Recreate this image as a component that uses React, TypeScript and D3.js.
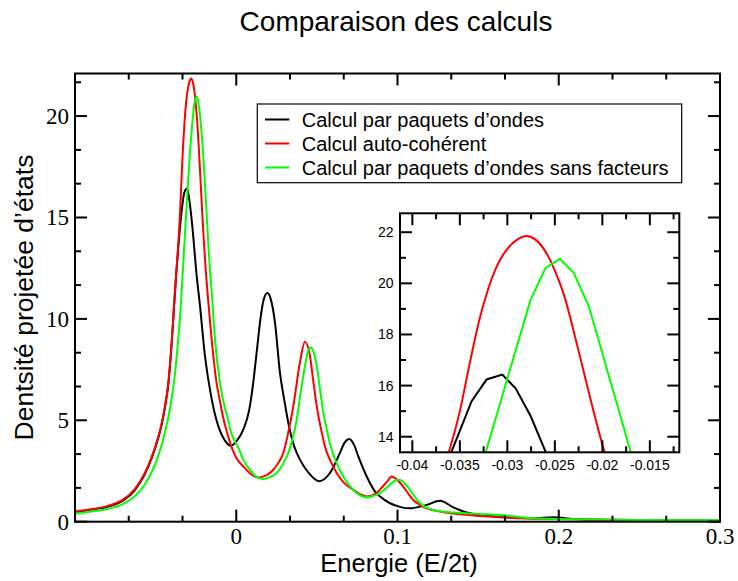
import React from 'react';
import * as d3 from 'd3';

type Pt = [number, number];

// [Energie, densité]
const blackSeries: Pt[] = [
  [-0.1, 0.48], [-0.09, 0.59], [-0.08, 0.74], [-0.07, 1.05], [-0.063, 1.55], [-0.057, 2.3],
  [-0.0524, 3.15], [-0.0483, 4.15], [-0.0462, 4.8], [-0.0442, 5.65], [-0.0421, 6.8], [-0.04, 8.85],
  [-0.0375, 11.9], [-0.03376, 15.39], [-0.03218, 16.24], [-0.03053, 16.43], [-0.02913, 15.89],
  [-0.02755, 14.81], [-0.0245, 12.1], [-0.0225, 10.65], [-0.0194, 8.17], [-0.0152, 6.03],
  [-0.0111, 4.7], [-0.007, 4.0], [-0.0033, 3.75], [0.0, 3.95], [0.0044, 4.55], [0.008, 5.5],
  [0.0106, 6.9], [0.013, 8.6], [0.015, 10.0], [0.017, 10.95], [0.0193, 11.28], [0.0215, 10.95],
  [0.024, 9.83], [0.0271, 7.35], [0.03, 5.9], [0.0323, 4.87], [0.036, 3.7], [0.0395, 3.06],
  [0.045, 2.4], [0.0515, 2.0], [0.0581, 2.4], [0.0643, 3.39], [0.0672, 3.9], [0.0701, 4.08],
  [0.073, 3.8], [0.0757, 3.22], [0.0809, 2.23], [0.086, 1.5], [0.0892, 1.24], [0.0954, 0.91],
  [0.102, 0.72], [0.1078, 0.66], [0.1181, 0.83], [0.1264, 1.03], [0.1346, 0.71], [0.1429, 0.45],
  [0.1512, 0.33], [0.1677, 0.22], [0.1842, 0.17], [0.1966, 0.22], [0.209, 0.13], [0.2297, 0.08],
  [0.3, 0.05],
];

const redSeries: Pt[] = [
  [-0.1, 0.5], [-0.09, 0.61], [-0.08, 0.77], [-0.07, 1.1], [-0.063, 1.6], [-0.057, 2.35],
  [-0.0524, 3.2], [-0.0483, 4.2], [-0.0462, 4.87], [-0.0442, 5.7], [-0.0421, 6.85], [-0.04, 8.9],
  [-0.038, 11.4], [-0.037, 12.5], [-0.036, 13.6], [-0.035, 15.0], [-0.034, 16.8], [-0.033, 18.5],
  [-0.032, 19.8], [-0.031, 20.75], [-0.03, 21.35], [-0.029, 21.7], [-0.028, 21.85], [-0.027, 21.7],
  [-0.026, 21.25], [-0.025, 20.5], [-0.024, 19.5], [-0.023, 18.1], [-0.022, 16.6], [-0.021, 15.1],
  [-0.02, 13.7], [-0.019, 12.5], [-0.0175, 11.0], [-0.0155, 9.2], [-0.0125, 7.0], [-0.01, 5.9],
  [-0.008, 5.1], [-0.005, 4.2], [-0.003, 3.7], [0.0, 3.15], [0.0044, 2.72], [0.009, 2.35],
  [0.0137, 2.18], [0.0185, 2.28], [0.023, 2.56], [0.0265, 2.95], [0.0292, 3.39], [0.032, 4.3],
  [0.0354, 5.7], [0.0395, 7.85], [0.0426, 8.87], [0.0457, 8.17], [0.048, 6.8], [0.0499, 5.7],
  [0.0525, 4.6], [0.055, 3.71], [0.059, 2.9], [0.0623, 2.4], [0.067, 1.9], [0.0726, 1.57],
  [0.077, 1.35], [0.0809, 1.24], [0.0871, 1.41], [0.091, 1.75], [0.0933, 1.95], [0.0964, 2.23],
  [0.1, 2.05], [0.1036, 1.73], [0.107, 1.35], [0.1098, 1.07], [0.114, 0.82], [0.1181, 0.66],
  [0.1264, 0.5], [0.1346, 0.4], [0.1512, 0.28], [0.1677, 0.2], [0.209, 0.12], [0.25, 0.08],
  [0.3, 0.05],
];

const greenSeries: Pt[] = [
  [-0.1, 0.4], [-0.09, 0.5], [-0.08, 0.63], [-0.07, 0.88], [-0.063, 1.25], [-0.057, 1.8],
  [-0.0524, 2.45], [-0.049, 3.1], [-0.0462, 3.8], [-0.044, 4.5], [-0.042, 5.2], [-0.04, 6.1],
  [-0.038, 7.3], [-0.036, 9.0], [-0.0345, 10.5], [-0.0335, 11.85], [-0.02755, 19.36],
  [-0.02598, 20.6], [-0.02447, 20.96], [-0.023, 20.4], [-0.02142, 19.1], [-0.016, 12.1],
  [-0.0152, 11.3], [-0.0132, 9.0], [-0.0101, 6.85], [-0.007, 5.6], [-0.0049, 5.0], [-0.0039, 4.6],
  [0.0013, 3.65], [0.0044, 3.06], [0.009, 2.5], [0.012, 2.25], [0.0168, 2.11], [0.021, 2.2],
  [0.0251, 2.4], [0.029, 2.85], [0.0323, 3.39], [0.035, 4.1], [0.0375, 5.04], [0.04, 6.4],
  [0.0426, 7.68], [0.0445, 8.4], [0.0462, 8.59], [0.048, 8.35], [0.0499, 7.68], [0.052, 6.5],
  [0.054, 5.37], [0.0565, 4.4], [0.0592, 3.55], [0.063, 2.75], [0.0664, 2.23], [0.07, 1.8],
  [0.0747, 1.41], [0.0809, 1.21], [0.086, 1.3], [0.0892, 1.41], [0.095, 1.8], [0.098, 2.0],
  [0.1011, 2.07], [0.1045, 1.9], [0.1078, 1.57], [0.111, 1.2], [0.114, 0.91], [0.1222, 0.58],
  [0.1346, 0.45], [0.1512, 0.38], [0.1636, 0.33], [0.1842, 0.17], [0.209, 0.12], [0.25, 0.09],
  [0.3, 0.07],
];

const seriesNames = [
  'Calcul par paquets d\u2019ondes',
  'Calcul auto-coh\u00e9rent',
  'Calcul par paquets d\u2019ondes sans facteurs',
];
const seriesColors = ['#000000', '#ff0000', '#00ff00'];

const xMajorTicks = [-0.1, 0, 0.1, 0.2, 0.3];
const xTickLabels = ['', '0', '0.1', '0.2', '0.3'];
const yMajorTicks = [0, 5, 10, 15, 20];
const yTickLabels = ['0', '5', '10', '15', '20'];

const insetXTicks = [-0.04, -0.035, -0.03, -0.025, -0.02, -0.015];
const insetXLabels = ['-0.04', '-0.035', '-0.03', '-0.025', '-0.02', '-0.015'];
const insetYTicks = [14, 16, 18, 20, 22];
const insetYLabels = ['14', '16', '18', '20', '22'];

const SANS = '"Liberation Sans", Arial, Helvetica, sans-serif';
const SERIF = '"Liberation Serif", "Times New Roman", serif';

export default function App() {
  const W = 738, H = 581;
  const L = 75, R = 720, T = 73.5, B = 521.7;
  const x = d3.scaleLinear().domain([-0.1, 0.3]).range([L, R]);
  const y = d3.scaleLinear().domain([0, 22.1]).range([B, T]);

  const iL = 400, iR = 679.3, iT = 213.3, iB = 452.3;
  const ix = d3.scaleLinear().domain([-0.0413, -0.0119]).range([iL, iR]);
  const iy = d3.scaleLinear().domain([13.39, 22.74]).range([iB, iT]);

  const all = [blackSeries, redSeries, greenSeries];

  const mainLine = d3.line<Pt>().x(d => x(d[0])).y(d => y(d[1])).curve(d3.curveMonotoneX);
  const insetLinear = d3.line<Pt>().x(d => ix(d[0])).y(d => iy(d[1]));
  const insetSmooth = d3.line<Pt>().x(d => ix(d[0])).y(d => iy(d[1])).curve(d3.curveMonotoneX);

  const xMinor = d3.range(0, 13).map(i => -0.1 + i * (0.1 / 3)).filter((_, i) => i % 3 !== 0);
  const yMinor = d3.range(0, 14).map(i => i * (5 / 3)).filter((v, i) => i % 3 !== 0 && v <= 22.1);
  const ixMinor = d3.range(0, 12).map(i => -0.04 + i * 0.0025).filter((_, i) => i % 2 === 1);
  const iyMinor = [15, 17, 19, 21];

  const MAJ = 12, MIN = 6;

  const tick = (key: string, x1: number, y1: number, x2: number, y2: number, w = 2) => (
    <line key={key} x1={x1} y1={y1} x2={x2} y2={y2} stroke="#000" strokeWidth={w} />
  );

  return (
    <svg width={W} height={H} style={{ position: 'absolute', left: 0, top: 0, background: '#fff' }}>
      <rect x={0} y={0} width={W} height={H} fill="#fff" />
      <defs>
        <clipPath id="mainClip"><rect x={L} y={T} width={R - L} height={B - T} /></clipPath>
        <clipPath id="insetClip"><rect x={iL} y={iT} width={iR - iL} height={iB - iT} /></clipPath>
      </defs>

      {/* title */}
      <text x={396} y={31} textAnchor="middle" fontFamily={SANS} fontSize={28} fill="#000">
        Comparaison des calculs
      </text>

      {/* curves */}
      <g clipPath="url(#mainClip)">
        {all.map((s, i) => (
          <path key={i} d={mainLine(s) || ''} fill="none" stroke={seriesColors[i]} strokeWidth={2} />
        ))}
      </g>

      {/* main frame and ticks */}
      <rect x={L} y={T} width={R - L} height={B - T} fill="none" stroke="#000" strokeWidth={2} />
      {xMajorTicks.map((v, i) => (
        <g key={'xm' + i}>
          {tick('b', x(v), B, x(v), B - MAJ)}
          {tick('t', x(v), T, x(v), T + MAJ)}
          <text x={x(v)} y={544} textAnchor="middle" fontFamily={SERIF} fontSize={23}>{xTickLabels[i]}</text>
        </g>
      ))}
      {xMinor.map((v, i) => (
        <g key={'xn' + i}>
          {tick('b', x(v), B, x(v), B - MIN)}
          {tick('t', x(v), T, x(v), T + MIN)}
        </g>
      ))}
      {yMajorTicks.map((v, i) => (
        <g key={'ym' + i}>
          {tick('l', L, y(v), L + MAJ, y(v))}
          {tick('r', R, y(v), R - MAJ, y(v))}
          <text x={69} y={y(v) + 8} textAnchor="end" fontFamily={SERIF} fontSize={23}>{yTickLabels[i]}</text>
        </g>
      ))}
      {yMinor.map((v, i) => (
        <g key={'yn' + i}>
          {tick('l', L, y(v), L + MIN, y(v))}
          {tick('r', R, y(v), R - MIN, y(v))}
        </g>
      ))}

      {/* axis titles */}
      <text x={399} y={572} textAnchor="middle" fontFamily={SANS} fontSize={25.5}>Energie (E/2t)</text>
      <text transform="translate(33,297.5) rotate(-90)" textAnchor="middle" fontFamily={SANS} fontSize={26.5}>
        Dentsité projetée d’états
      </text>

      {/* legend */}
      <rect x={257.3} y={104} width={424.4} height={78.7} fill="#fff" stroke="#000" strokeWidth={1.2} />
      {seriesNames.map((n, i) => {
        const cy = 119.5 + i * 24;
        return (
          <g key={'lg' + i}>
            <line x1={265} x2={289.3} y1={cy} y2={cy} stroke={seriesColors[i]} strokeWidth={2} />
            <text x={301.7} y={cy + 7} fontFamily={SANS} fontSize={20}>{n}</text>
          </g>
        );
      })}

      {/* inset */}
      <rect x={iL} y={iT} width={iR - iL} height={iB - iT} fill="#fff" />
      <g clipPath="url(#insetClip)">
        {all.map((s, i) => (
          <path key={i} d={(i === 1 ? insetSmooth(s) : insetLinear(s)) || ''} fill="none"
            stroke={seriesColors[i]} strokeWidth={2} />
        ))}
      </g>
      <rect x={iL} y={iT} width={iR - iL} height={iB - iT} fill="none" stroke="#000" strokeWidth={2} />
      {insetXTicks.map((v, i) => (
        <g key={'ixm' + i}>
          {tick('b', ix(v), iB, ix(v), iB - MAJ)}
          {tick('t', ix(v), iT, ix(v), iT + MAJ)}
          <text x={ix(v)} y={470} textAnchor="middle" fontFamily={SANS} fontSize={14}>{insetXLabels[i]}</text>
        </g>
      ))}
      {ixMinor.map((v, i) => (
        <g key={'ixn' + i}>
          {tick('b', ix(v), iB, ix(v), iB - MIN)}
          {tick('t', ix(v), iT, ix(v), iT + MIN)}
        </g>
      ))}
      {insetYTicks.map((v, i) => (
        <g key={'iym' + i}>
          {tick('l', iL, iy(v), iL + MAJ, iy(v))}
          {tick('r', iR, iy(v), iR - MAJ, iy(v))}
          <text x={393.5} y={iy(v) + 5} textAnchor="end" fontFamily={SANS} fontSize={14}>{insetYLabels[i]}</text>
        </g>
      ))}
      {iyMinor.map((v, i) => (
        <g key={'iyn' + i}>
          {tick('l', iL, iy(v), iL + MIN, iy(v))}
          {tick('r', iR, iy(v), iR - MIN, iy(v))}
        </g>
      ))}
    </svg>
  );
}
